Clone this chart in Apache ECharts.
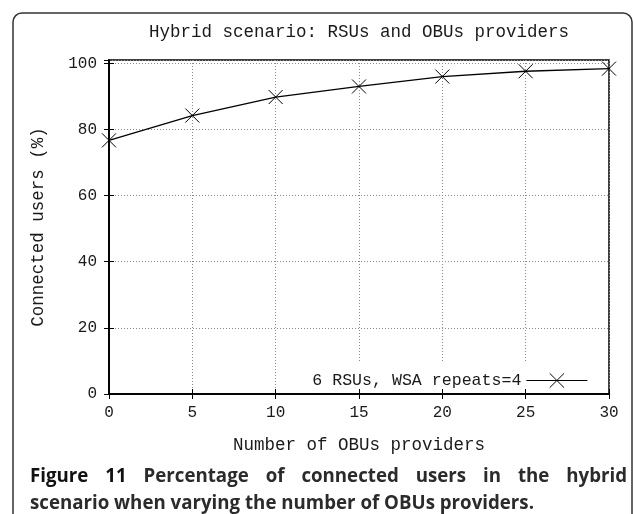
<!DOCTYPE html>
<html>
<head>
<meta charset="utf-8">
<script src="https://cdn.jsdelivr.net/npm/echarts@6/dist/echarts.min.js"></script>
<style>
html,body{margin:0;padding:0;background:#fff;}
#chart{width:633px;height:514px;}
</style>
</head>
<body>
<div id="chart"></div>
<script>
// ---- data ----
const chartTitle = 'Hybrid scenario: RSUs and OBUs providers';
const xAxisName = 'Number of OBUs providers';
const yAxisName = 'Connected users (%)';
const seriesName = '6 RSUs, WSA repeats=4';
const obuProviders = [0, 5, 10, 15, 20, 25, 30];
const connectedUsers = [76.7, 84.2, 89.8, 93.0, 96.0, 97.6, 98.4];
const captionLine1 = ['Figure', '11', 'Percentage', 'of', 'connected', 'users', 'in', 'the', 'hybrid'];
const captionLine2 = 'scenario when varying the number of OBUs providers.';

const mono = '"Liberation Mono", "DejaVu Sans Mono", monospace';
const ink = '#1a1a1a';

const ctx = document.createElement('canvas').getContext('2d');
function textWidth(t, font) { ctx.font = font; return ctx.measureText(t).width; }

// justified first caption line
const capFont = 'bold 18.7px "Open Sans"';
const capLeft = 30, capRight = 627;
const widths = captionLine1.map(w => textWidth(w, capFont));
const gap = (capRight - capLeft - widths.reduce((a, b) => a + b, 0)) / (captionLine1.length - 1);
const captionEls = [];
let cx = capLeft;
captionLine1.forEach((w, i) => {
  captionEls.push({
    type: 'text', left: cx, top: 467,
    style: { text: w, font: capFont, fill: i < 2 ? '#111' : '#2b2b2b' }
  });
  cx += widths[i] + gap;
});
captionEls.push({
  type: 'text', left: capLeft, top: 494,
  style: { text: captionLine2, font: capFont, fill: '#2b2b2b' }
});

const chart = echarts.init(document.getElementById('chart'));
const gridLine = { show: true, lineStyle: { color: '#8a8a8a', width: 1, type: [1, 2] } };
const xSpec = { type: 'value', min: 0, max: 30, interval: 5 };
const ySpec = { type: 'value', min: 0, max: 101, interval: 20 };

chart.setOption({
  animation: false,
  backgroundColor: '#fff',
  title: {
    text: chartTitle, left: 359, top: 23, textAlign: 'center', padding: 0,
    textStyle: { fontFamily: mono, fontSize: 17.5, fontWeight: 'normal', color: ink }
  },
  grid: { left: 109, right: 24, top: 60, bottom: 120, show: true, borderColor: '#000', borderWidth: 1.5, backgroundColor: 'transparent' },
  legend: {
    data: [seriesName], right: 33, top: 363, align: 'right', orient: 'horizontal',
    itemWidth: 61, itemHeight: 18, itemGap: 6,
    padding: [9, 12, 0, 4], backgroundColor: '#fff',
    itemStyle: { borderWidth: 1 },
    lineStyle: { width: 1.2 },
    textStyle: { fontFamily: mono, fontSize: 16.6, color: ink }
  },
  xAxis: [
    Object.assign({}, xSpec, {
      position: 'bottom',
      name: xAxisName, nameLocation: 'middle', nameGap: 42,
      nameTextStyle: { fontFamily: mono, fontSize: 17.5, color: ink },
      axisLine: { show: true, lineStyle: { color: '#000', width: 1.5 } },
      axisTick: { show: true, inside: true, length: 5, lineStyle: { color: '#000' } },
      axisLabel: { fontFamily: mono, fontSize: 16, color: ink, margin: 11 },
      splitLine: gridLine
    }),
    Object.assign({}, xSpec, {
      position: 'top',
      axisLine: { show: true, lineStyle: { color: '#000', width: 1.5 } },
      axisTick: { show: true, inside: true, length: 5, lineStyle: { color: '#000' } },
      axisLabel: { show: false },
      splitLine: { show: false }
    })
  ],
  yAxis: [
    Object.assign({}, ySpec, {
      position: 'left',
      name: yAxisName, nameLocation: 'middle', nameGap: 62, nameRotate: 90,
      nameTextStyle: { fontFamily: mono, fontSize: 17.5, color: ink },
      axisLine: { show: true, lineStyle: { color: '#000', width: 1.5 } },
      axisTick: { show: true, inside: true, length: 5, lineStyle: { color: '#000' } },
      axisLabel: { fontFamily: mono, fontSize: 16, color: ink, margin: 12, showMaxLabel: false },
      splitLine: gridLine
    }),
    Object.assign({}, ySpec, {
      position: 'right',
      axisLine: { show: true, lineStyle: { color: '#000', width: 1.5 } },
      axisTick: { show: true, inside: true, length: 5, lineStyle: { color: '#000' } },
      axisLabel: { show: false },
      splitLine: { show: false }
    })
  ],
  series: [{
    name: seriesName, type: 'line', xAxisIndex: 0, yAxisIndex: 0,
    data: obuProviders.map((x, i) => [x, connectedUsers[i]]),
    symbol: 'path://M0,0L10,10M10,0L0,10', symbolSize: 14,
    lineStyle: { color: '#000', width: 1.3 },
    itemStyle: { color: '#000', borderColor: '#000', borderWidth: 1 },
    clip: false, z: 3
  }],
  graphic: [
    { type: 'rect', shape: { x: 13, y: 13, width: 619, height: 540, r: 9 },
      style: { fill: 'none', stroke: '#333', lineWidth: 1.5 }, z: 10 }
  ].concat(captionEls)
});
</script>
</body>
</html>
